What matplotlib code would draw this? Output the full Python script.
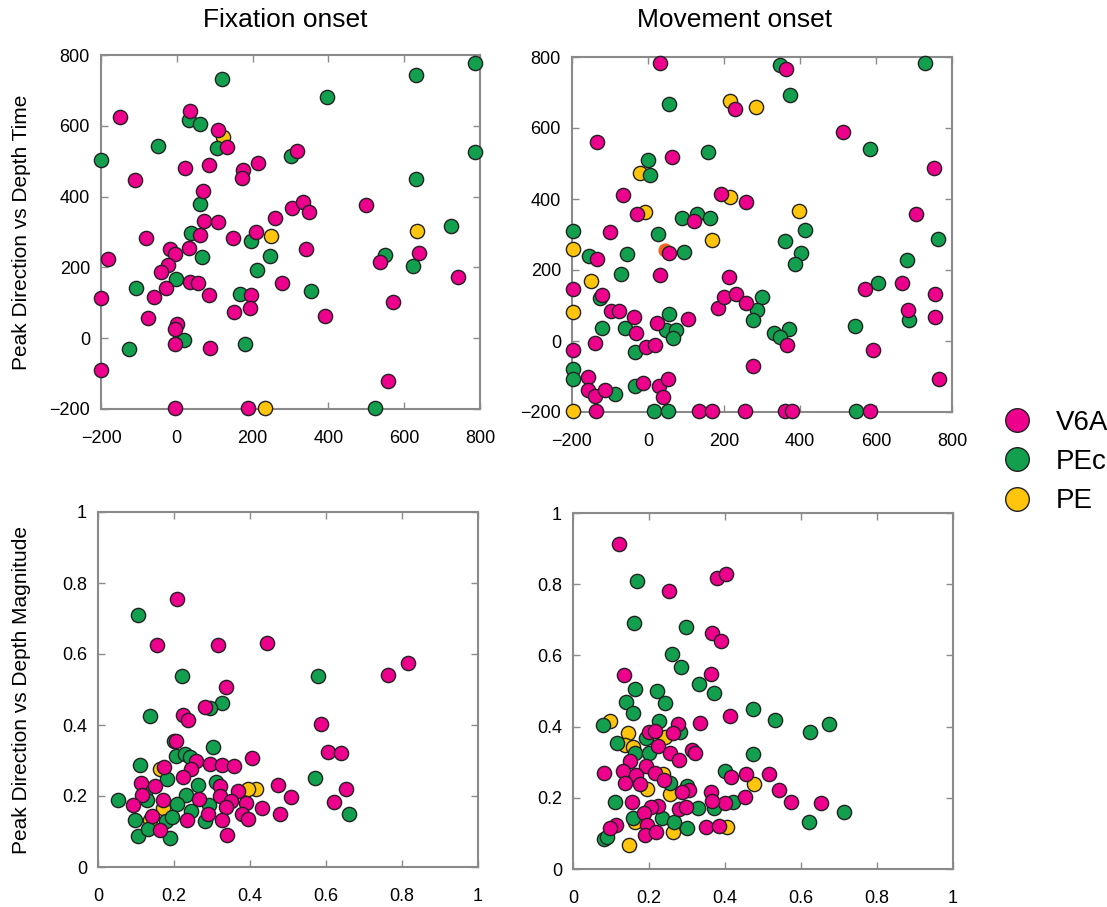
import matplotlib
matplotlib.use("Agg")
import matplotlib.pyplot as plt
from matplotlib.lines import Line2D

plt.rcParams['font.family'] = ['Liberation Sans', 'DejaVu Sans']

V6A_COL = '#EC008C'
PEC_COL = '#12A04F'
PE_COL = '#FFC40C'

# --- Fixation onset, time (x, y) ---
fix_time_v6a_x = [-151, 35, 108, 132, 318, 21, 86, -111, 174, 171, 215, 68, 304, 334, 348, 500,
                  259, 72, 108, -80, 149, 210, 62, 33, -19, -6, 341, 639, -182, 535, -24, -42,
                  741, 35, 56, -29, 278, -59, 84, 195, -199, 570, -77, 150, 192, 391, 0, -6,
                  -6, 88, -199, 556, -6, 187]
fix_time_v6a_y = [625, 641, 587, 540, 528, 480, 490, 448, 475, 452, 495, 416, 369, 384, 356, 376,
                  340, 331, 329, 283, 284, 299, 291, 255, 253, 239, 252, 242, 224, 216, 206, 188,
                  173, 158, 155, 141, 155, 115, 122, 122, 114, 103, 58, 74, 85, 62, 39, 25,
                  -17, -29, -90, -120, -198, -198]
fix_time_pec_x = [120, 787, 630, 396, 31, 60, -50, 106, -199, 302, 787, 631, 60, 724, 38, 195,
                  246, 67, 550, 624, 211, -1, -108, 354, 167, 18, -127, 180, 522]
fix_time_pec_y = [732, 777, 744, 681, 616, 604, 543, 538, 503, 514, 526, 449, 380, 316, 296, 274,
                  232, 228, 235, 205, 192, 168, 141, 134, 126, -5, -31, -15, -198]
fix_time_pe_x = [122, 248, 633, 234]
fix_time_pe_y = [567, 289, 303, -198]

# --- Movement onset, time (x, y) ---
mov_time_v6a_x = [31, 362, 229, 514, -134, 64, -65, 193, 257, -29, 120, -99, -133, 56, 32, 213,
                  -197, -120, 570, -97, -76, -38, -32, 23, 106, 183, 201, 231, 258, 365, -139,
                  -197, -6, 18, 593, 275, -158, -159, -139, -114, -14, 28, 52, 40, -136, 135,
                  168, 256, 361, 378, 583, 753, 705, 668, 754, 683, 754, 767]
mov_time_v6a_y = [783, 765, 653, 589, 561, 518, 410, 414, 392, 357, 339, 306, 231, 247, 185, 179,
                  147, 130, 147, 84, 84, 68, 23, 52, 61, 94, 124, 131, 108, -10, -7,
                  -24, -18, -11, -24, -71, -101, -139, -155, -137, -117, -127, -108, -157, -197, -197,
                  -197, -197, -197, -197, -197, 487, 357, 164, 133, 88, 68, -108]
mov_time_pec_x = [348, 374, 56, 159, 583, -1, 6, 89, 130, 164, 26, 96, -197, -156, -55, -71,
                  360, 414, 402, 388, 606, -126, 300, 286, 277, -121, -61, 54, 48, 74, 66,
                  332, 372, 348, 545, -33, -197, -197, -86, -33, 15, 52, 547, 730, 763, 682, 688]
mov_time_pec_y = [777, 692, 667, 531, 540, 509, 468, 346, 357, 346, 301, 250, 310, 239, 244, 189,
                  283, 313, 248, 218, 164, 121, 124, 86, 58, 38, 38, 77, 30, 30, 9,
                  23, 33, 11, 43, -31, -78, -106, -150, -127, -197, -197, -197, 784, 286, 229, 58]
mov_time_pe_x = [215, 283, -20, -8, 215, 397, 168, -197, -150, -197, -197]
mov_time_pe_y = [677, 659, 474, 364, 406, 366, 285, 258, 169, 82, -197]
mov_time_odd_x = [45]
mov_time_odd_y = [257]

# --- Fixation onset, magnitude (x, y) ---
fix_mag_v6a_x = [0.208, 0.156, 0.316, 0.445, 0.336, 0.281, 0.224, 0.237, 0.763, 0.816, 0.586,
                 0.605, 0.640, 0.652, 0.621, 0.406, 0.474, 0.507, 0.432, 0.478, 0.204, 0.259,
                 0.246, 0.224, 0.173, 0.294, 0.327, 0.358, 0.112, 0.149, 0.322, 0.369, 0.322,
                 0.117, 0.092, 0.171, 0.266, 0.349, 0.389, 0.338, 0.289, 0.143, 0.234, 0.327,
                 0.380, 0.395, 0.162, 0.339]
fix_mag_v6a_y = [0.754, 0.624, 0.626, 0.631, 0.507, 0.451, 0.427, 0.413, 0.542, 0.575, 0.404,
                 0.324, 0.322, 0.221, 0.183, 0.308, 0.230, 0.197, 0.166, 0.150, 0.354, 0.300,
                 0.275, 0.254, 0.282, 0.289, 0.286, 0.285, 0.238, 0.227, 0.227, 0.214, 0.199,
                 0.202, 0.176, 0.188, 0.191, 0.185, 0.181, 0.169, 0.150, 0.143, 0.131, 0.131,
                 0.150, 0.136, 0.103, 0.089]
fix_mag_pec_x = [0.104, 0.222, 0.136, 0.326, 0.294, 0.580, 0.200, 0.206, 0.228, 0.241, 0.302,
                 0.110, 0.182, 0.125, 0.263, 0.310, 0.231, 0.052, 0.209, 0.292, 0.246, 0.570,
                 0.661, 0.098, 0.178, 0.195, 0.281, 0.104, 0.189, 0.132, 0.129]
fix_mag_pec_y = [0.709, 0.539, 0.424, 0.463, 0.449, 0.539, 0.354, 0.313, 0.319, 0.310, 0.338,
                 0.286, 0.249, 0.216, 0.230, 0.239, 0.204, 0.188, 0.177, 0.174, 0.158, 0.252,
                 0.150, 0.131, 0.130, 0.141, 0.130, 0.087, 0.083, 0.108, 0.188]
fix_mag_pe_x = [0.417, 0.395, 0.171, 0.136, 0.162]
fix_mag_pe_y = [0.221, 0.221, 0.167, 0.133, 0.277]

# --- Movement onset, magnitude (x, y) ---
mov_mag_v6a_x = [0.122, 0.253, 0.380, 0.402, 0.367, 0.389, 0.133, 0.364, 0.414, 0.335, 0.277,
                 0.262, 0.201, 0.217, 0.224, 0.255, 0.313, 0.322, 0.278, 0.149, 0.131, 0.082,
                 0.193, 0.215, 0.240, 0.165, 0.175, 0.136, 0.417, 0.456, 0.517, 0.543, 0.573,
                 0.652, 0.453, 0.399, 0.364, 0.367, 0.304, 0.288, 0.279, 0.155, 0.224, 0.205,
                 0.186, 0.112, 0.097, 0.196, 0.190, 0.219, 0.349, 0.384, 0.298]
mov_mag_v6a_y = [0.913, 0.780, 0.817, 0.828, 0.664, 0.641, 0.544, 0.548, 0.431, 0.410, 0.408,
                 0.381, 0.385, 0.388, 0.346, 0.325, 0.335, 0.325, 0.306, 0.304, 0.274, 0.269,
                 0.288, 0.271, 0.250, 0.264, 0.238, 0.241, 0.259, 0.266, 0.266, 0.222, 0.188,
                 0.185, 0.201, 0.184, 0.217, 0.191, 0.222, 0.216, 0.168, 0.188, 0.178, 0.173,
                 0.157, 0.124, 0.114, 0.124, 0.096, 0.105, 0.117, 0.122, 0.175]
mov_mag_pec_x = [0.168, 0.161, 0.298, 0.260, 0.283, 0.332, 0.371, 0.164, 0.220, 0.242, 0.140,
                 0.159, 0.474, 0.531, 0.624, 0.674, 0.080, 0.227, 0.281, 0.115, 0.164, 0.191,
                 0.201, 0.474, 0.400, 0.255, 0.299, 0.111, 0.421, 0.330, 0.371, 0.713, 0.622,
                 0.158, 0.234, 0.267, 0.301, 0.082, 0.090]
mov_mag_pec_y = [0.810, 0.692, 0.681, 0.604, 0.568, 0.521, 0.495, 0.506, 0.499, 0.466, 0.469,
                 0.439, 0.450, 0.418, 0.384, 0.406, 0.405, 0.417, 0.386, 0.353, 0.325, 0.367,
                 0.325, 0.323, 0.276, 0.241, 0.233, 0.187, 0.187, 0.172, 0.171, 0.161, 0.132,
                 0.142, 0.142, 0.133, 0.114, 0.084, 0.091]
mov_mag_pe_x = [0.098, 0.145, 0.136, 0.158, 0.241, 0.196, 0.237, 0.255, 0.477, 0.404, 0.264,
                0.163, 0.147]
mov_mag_pe_y = [0.417, 0.381, 0.348, 0.344, 0.372, 0.225, 0.266, 0.211, 0.240, 0.119, 0.104,
                0.133, 0.068]

time_ticks = [-200, 0, 200, 400, 600, 800]
mag_ticks = [0, 0.2, 0.4, 0.6, 0.8, 1]
mag_labels = ['0', '0.2', '0.4', '0.6', '0.8', '1']

W, H = 1107, 907
fig = plt.figure(figsize=(W / 100, H / 100), dpi=100)


def make_ax(left, top, right, bottom):
    return fig.add_axes([left / W, 1 - bottom / H, (right - left) / W, (bottom - top) / H])


def style(ax, ticks, labels=None):
    ax.set_xlim(ticks[0], ticks[-1])
    ax.set_ylim(ticks[0], ticks[-1])
    ax.set_xticks(ticks)
    ax.set_yticks(ticks)
    if labels is not None:
        ax.set_xticklabels(labels)
        ax.set_yticklabels(labels)
    for sp in ax.spines.values():
        sp.set_color('#8a8a8a')
        sp.set_linewidth(1.5)
    ax.tick_params(direction='in', length=5, width=1, color='#8a8a8a', top=True, right=True,
                   labelsize=13)
    ax.tick_params(axis='x', pad=15)
    ax.tick_params(axis='y', pad=8)


def scatter(ax, v6a, pec, pe):
    kw = dict(s=105, edgecolors='#222222', linewidths=1.0, clip_on=False)
    ax.scatter(pe[0], pe[1], c=PE_COL, zorder=3, **kw)
    ax.scatter(pec[0], pec[1], c=PEC_COL, zorder=3, **kw)
    ax.scatter(v6a[0], v6a[1], c=V6A_COL, zorder=3, **kw)


ax1 = make_ax(101, 55, 480, 409)
ax2 = make_ax(572, 57, 952, 412)
ax3 = make_ax(98, 512, 478, 867)
ax4 = make_ax(573, 513, 953, 869)

ax2.scatter(mov_time_odd_x, mov_time_odd_y, s=105, c='#F26522', linewidths=0, zorder=2, clip_on=False)

scatter(ax1, (fix_time_v6a_x, fix_time_v6a_y), (fix_time_pec_x, fix_time_pec_y), (fix_time_pe_x, fix_time_pe_y))
scatter(ax2, (mov_time_v6a_x, mov_time_v6a_y), (mov_time_pec_x, mov_time_pec_y), (mov_time_pe_x, mov_time_pe_y))
scatter(ax3, (fix_mag_v6a_x, fix_mag_v6a_y), (fix_mag_pec_x, fix_mag_pec_y), (fix_mag_pe_x, fix_mag_pe_y))
scatter(ax4, (mov_mag_v6a_x, mov_mag_v6a_y), (mov_mag_pec_x, mov_mag_pec_y), (mov_mag_pe_x, mov_mag_pe_y))

style(ax1, time_ticks)
style(ax2, time_ticks)
style(ax3, mag_ticks, mag_labels)
style(ax4, mag_ticks, mag_labels)

fig.text(285 / W, 1 - 20 / H, 'Fixation onset', fontsize=19, ha='center', va='center')
fig.text(735 / W, 1 - 20 / H, 'Movement onset', fontsize=19, ha='center', va='center')
fig.text(22 / W, 1 - 232 / H, 'Peak Direction vs Depth Time', fontsize=15, rotation=90,
         ha='center', va='center')
fig.text(22 / W, 1 - 690 / H, 'Peak Direction vs Depth Magnitude', fontsize=15, rotation=90,
         ha='center', va='center')

handles = [Line2D([], [], marker='o', ls='none', markersize=17, markerfacecolor=c,
                  markeredgecolor='#222222', markeredgewidth=1.0)
           for c in (V6A_COL, PEC_COL, PE_COL)]
fig.legend(handles, ['V6A', 'PEc', 'PE'], loc='center left', bbox_to_anchor=(992 / W, 1 - 462 / H),
           frameon=False, fontsize=20, handlelength=1.0, handletextpad=0.9, labelspacing=0.48,
           borderaxespad=0)

fig.savefig('out.png', dpi=100)
